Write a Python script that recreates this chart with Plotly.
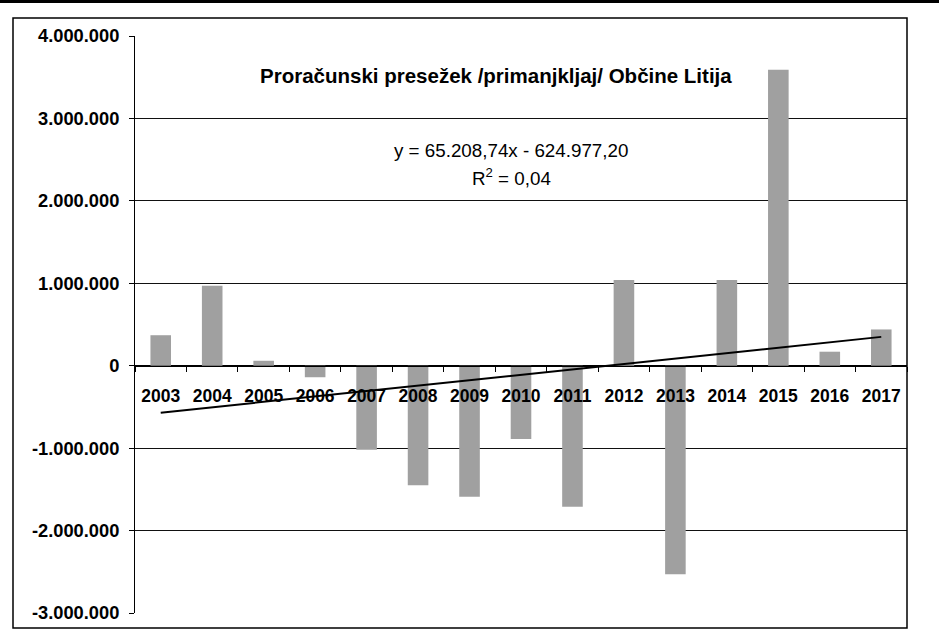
import numpy as np
import plotly.graph_objects as go

# ---- data ----
years = ["2003", "2004", "2005", "2006", "2007", "2008", "2009", "2010",
         "2011", "2012", "2013", "2014", "2015", "2016", "2017"]
surplus = [370000, 970000, 60000, -140000, -1020000, -1450000, -1590000, -890000,
           -1710000, 1040000, -2530000, 1040000, 3590000, 170000, 440000]
y_tickvals = [-3000000, -2000000, -1000000, 0, 1000000, 2000000, 3000000, 4000000]
y_ticktext = ["-3.000.000", "-2.000.000", "-1.000.000", "0",
              "1.000.000", "2.000.000", "3.000.000", "4.000.000"]
title_text = "Proračunski presežek /primanjkljaj/ Občine Litija"
equation_text = "y = 65.208,74x - 624.977,20"
r2_text = "R<sup>2</sup> = 0,04"

# linear trend (Excel-style, x = 1..n)
xi = np.arange(1, len(surplus) + 1)
slope, intercept = np.polyfit(xi, np.array(surplus, dtype=float), 1)
trend = slope * xi + intercept

FONT = "Liberation Sans, Arial, sans-serif"

fig = go.Figure()
fig.add_trace(go.Bar(x=years, y=surplus, marker=dict(color="#A0A0A0", line=dict(width=0)),
                     showlegend=False, hoverinfo="x+y"))
fig.add_trace(go.Scatter(x=years, y=trend, mode="lines", line=dict(color="black", width=2),
                         showlegend=False, hoverinfo="skip"))

W, H = 939, 635
L, R, T, B = 135, 32, 36, 22
pw, ph = W - L - R, H - T - B

def px_x(x):
    return (x - L) / pw

def px_y(y):
    return (H - B - y) / ph

fig.update_layout(
    width=W, height=H,
    margin=dict(l=L, r=R, t=T, b=B),
    paper_bgcolor="white", plot_bgcolor="white",
    bargap=0.6,
    font=dict(family=FONT, color="black"),
    xaxis=dict(
        type="category", anchor="free", position=3 / 7,
        showgrid=False, zeroline=False,
        showline=True, linecolor="black", linewidth=1,
        ticks="outside", ticklen=5, tickcolor="black", tickson="boundaries",
        tickfont=dict(family=FONT, size=17.5, color="black", weight="bold"),
        ticklabelstandoff=14,
        range=[-0.5, len(years) - 0.5],
    ),
    yaxis=dict(
        range=[-3000000, 4000000],
        tickvals=y_tickvals, ticktext=y_ticktext,
        showgrid=True, gridcolor="#111111", gridwidth=1,
        zeroline=True, zerolinecolor="black", zerolinewidth=1,
        showline=True, linecolor="black", linewidth=1,
        ticks="outside", ticklen=5, tickcolor="black",
        tickfont=dict(family=FONT, size=18.3, color="black", weight="bold"),
        ticklabelstandoff=6,
    ),
    annotations=[
        dict(text="<b>" + title_text + "</b>", xref="paper", yref="paper",
             x=px_x(496), y=px_y(75), xanchor="center", yanchor="middle", showarrow=False,
             font=dict(family=FONT, size=20.5, color="black")),
        dict(text=equation_text, xref="paper", yref="paper",
             x=px_x(511), y=px_y(150), xanchor="center", yanchor="middle", showarrow=False,
             font=dict(family=FONT, size=18.8, color="black")),
        dict(text=r2_text, xref="paper", yref="paper",
             x=px_x(511), y=px_y(177), xanchor="center", yanchor="middle", showarrow=False,
             font=dict(family=FONT, size=18.8, color="black")),
    ],
    shapes=[
        dict(type="rect", xref="paper", yref="paper",
             x0=px_x(13), x1=px_x(907), y0=px_y(628), y1=px_y(18),
             line=dict(color="black", width=1.5), layer="above"),
        dict(type="line", xref="paper", yref="paper",
             x0=px_x(0), x1=px_x(939), y0=px_y(1.5), y1=px_y(1.5),
             line=dict(color="black", width=3)),
    ],
)

fig.write_html("out.html", config={"displayModeBar": False},
               post_script="document.body.style.margin='0';document.body.style.padding='0';")
